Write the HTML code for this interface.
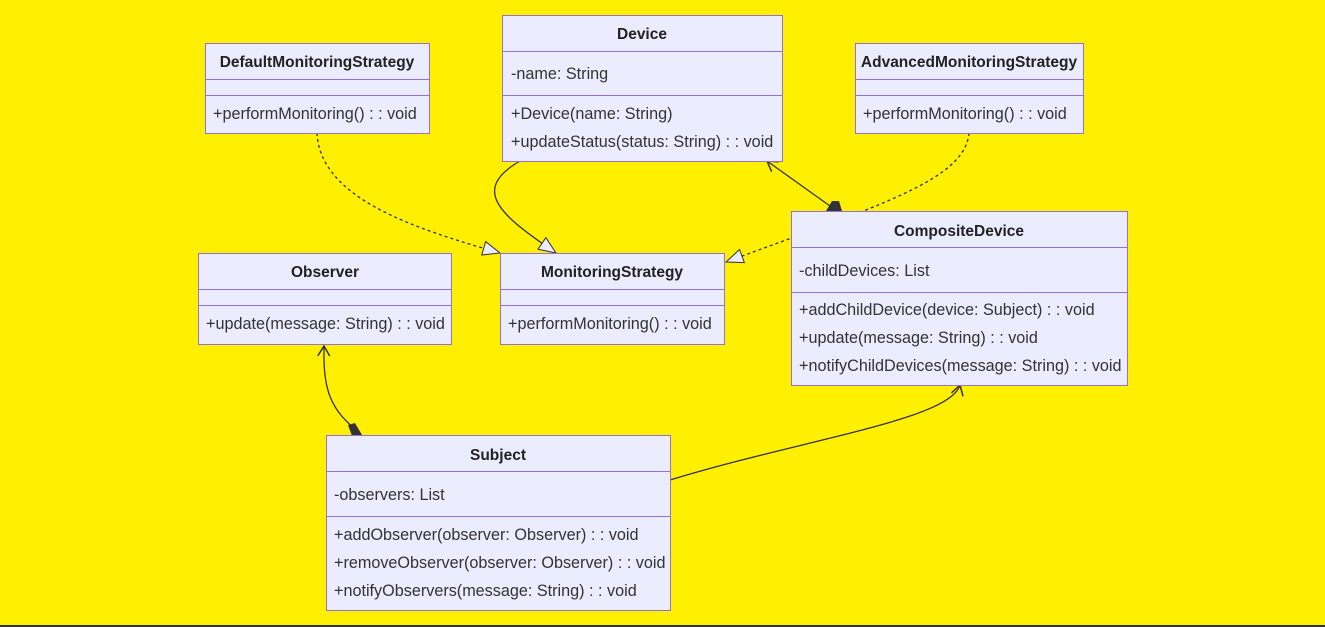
<!DOCTYPE html>
<html><head><style>
body{margin:0;width:1325px;height:627px;background:#FFEF00;overflow:hidden;font-family:"Liberation Sans",sans-serif}
svg{position:absolute;left:0;top:0}
</style></head><body>
<svg width="1325" height="627" viewBox="0 0 1325 627" font-family="Liberation Sans, sans-serif" font-size="16.2" fill="#333">
<defs>
<marker id="tri" markerWidth="20" markerHeight="16" refX="18" refY="8" orient="auto" markerUnits="userSpaceOnUse"><path d="M1,1 L18,8 L1,15 Z" fill="#ECECFF" stroke="#333" stroke-width="1"/></marker>
<marker id="arr" markerWidth="12" markerHeight="14" refX="11" refY="7" orient="auto" markerUnits="userSpaceOnUse"><path d="M1,1 L11,7 L1,13" fill="none" stroke="#333" stroke-width="1.5"/></marker>
</defs>
<g fill="none" stroke="#333" stroke-width="1.3">
<path d="M317,133 C320,200 420,230 500,253" stroke-dasharray="3,3" marker-end="url(#tri)"/>
<path d="M520,161 C470,190 500,215 556,253" marker-end="url(#tri)"/>
<path d="M969,133 C965,180 880,205 726,262" stroke-dasharray="3,3" marker-end="url(#tri)"/>
<path d="M838,211 L830,206 L767,161" marker-end="url(#arr)"/>
<path d="M360,433 C330,410 323,390 324,346" marker-end="url(#arr)"/>
<path d="M670,480 C800,440 950,420 960,385" marker-end="url(#arr)"/>
</g>
<path d="M832,201 L839,201 L842,211 L826,211 Z" fill="#333"/>
<path d="M348,425 L355,423 L362,435 L352,436 Z" fill="#333"/>
<g fill="#ECECFF" stroke="#9370DB" stroke-width="1">
<rect x="205.5" y="43.5" width="224" height="90"/><line x1="205" y1="79.5" x2="429" y2="79.5"/><line x1="205" y1="95.5" x2="429" y2="95.5"/>
<rect x="502.5" y="15.5" width="280" height="146"/><line x1="502" y1="51.5" x2="782" y2="51.5"/><line x1="502" y1="95.5" x2="782" y2="95.5"/>
<rect x="855.5" y="43.5" width="228" height="90"/><line x1="855" y1="79.5" x2="1083" y2="79.5"/><line x1="855" y1="95.5" x2="1083" y2="95.5"/>
<rect x="198.5" y="253.5" width="253" height="91"/><line x1="198" y1="289.5" x2="451" y2="289.5"/><line x1="198" y1="305.5" x2="451" y2="305.5"/>
<rect x="500.5" y="253.5" width="224" height="91"/><line x1="500" y1="289.5" x2="724" y2="289.5"/><line x1="500" y1="305.5" x2="724" y2="305.5"/>
<rect x="791.5" y="211.5" width="336" height="174"/><line x1="791" y1="247.5" x2="1127" y2="247.5"/><line x1="791" y1="292.5" x2="1127" y2="292.5"/>
<rect x="326.5" y="435.5" width="344" height="175"/><line x1="326" y1="471.5" x2="670" y2="471.5"/><line x1="326" y1="516.5" x2="670" y2="516.5"/>
</g>
<g font-weight="bold" text-anchor="middle" font-size="15.5" fill="#222">
<text x="317" y="67">DefaultMonitoringStrategy</text>
<text x="642" y="39">Device</text>
<text x="969" y="67">AdvancedMonitoringStrategy</text>
<text x="325" y="277">Observer</text>
<text x="612" y="277">MonitoringStrategy</text>
<text x="959" y="236">CompositeDevice</text>
<text x="498" y="460">Subject</text>
</g>
<g>
<text x="213" y="119">+performMonitoring() : : void</text>
<text x="511" y="79">-name: String</text>
<text x="511" y="119">+Device(name: String)</text>
<text x="511" y="147">+updateStatus(status: String) : : void</text>
<text x="863" y="119">+performMonitoring() : : void</text>
<text x="206" y="329">+update(message: String) : : void</text>
<text x="508" y="329">+performMonitoring() : : void</text>
<text x="799" y="276">-childDevices: List</text>
<text x="799" y="315">+addChildDevice(device: Subject) : : void</text>
<text x="799" y="343">+update(message: String) : : void</text>
<text x="799" y="371">+notifyChildDevices(message: String) : : void</text>
<text x="334" y="500">-observers: List</text>
<text x="334" y="540">+addObserver(observer: Observer) : : void</text>
<text x="334" y="568">+removeObserver(observer: Observer) : : void</text>
<text x="334" y="596">+notifyObservers(message: String) : : void</text>
</g>
<rect x="0" y="625" width="1325" height="2" fill="#333"/>
</svg>
</body></html>
